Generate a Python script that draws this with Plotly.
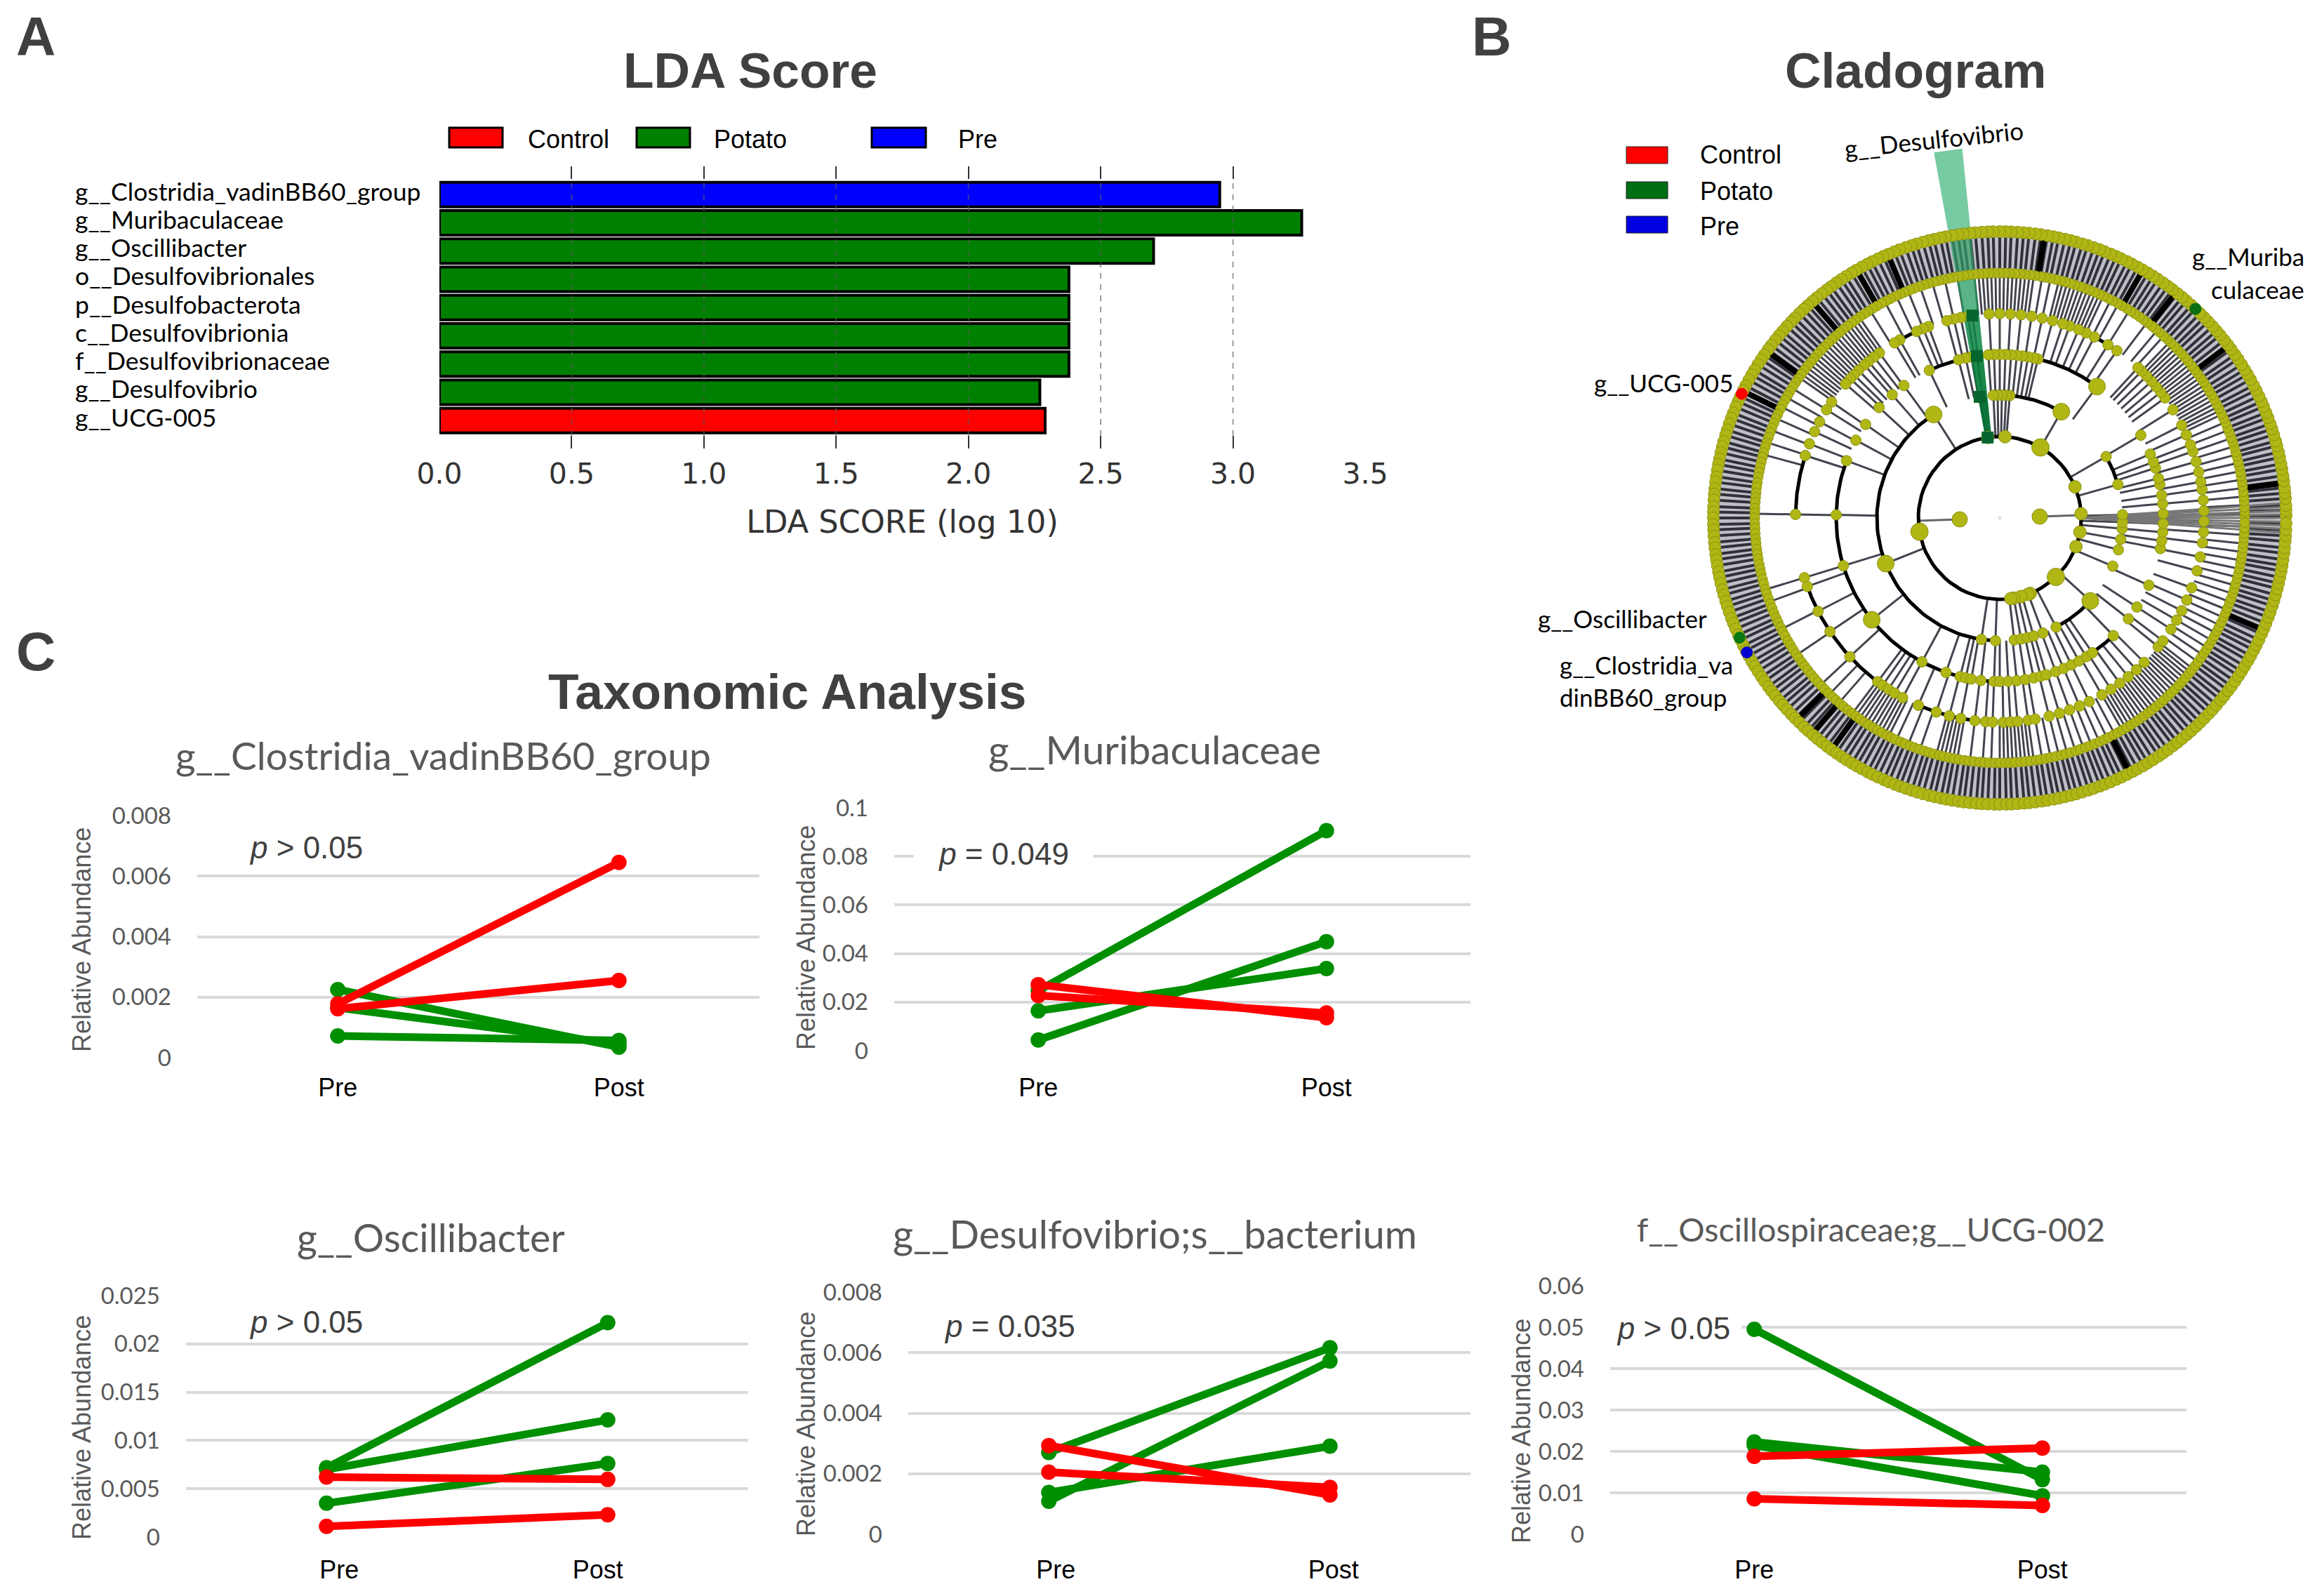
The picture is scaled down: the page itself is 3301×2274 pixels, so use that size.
import numpy as np
import plotly.graph_objects as go

W, H = 3301, 2274
def fx(p): return p / W
def fy(p): return 1 - p / H

SERIF_LIKE = "Lato"
ARIAL = "Liberation Sans"
DEJA = "DejaVu Sans"
GREY = "#595959"
DARK = "#404040"
RED = "#ff0000"
GREEN = "#008f00"

# ---------- Panel A ----------
LDA_NAMES = ["g__Clostridia_vadinBB60_group", "g__Muribaculaceae", "g__Oscillibacter",
             "o__Desulfovibrionales", "p__Desulfobacterota", "c__Desulfovibrionia",
             "f__Desulfovibrionaceae", "g__Desulfovibrio", "g__UCG-005"]
LDA_VALUES = [2.95, 3.26, 2.70, 2.38, 2.38, 2.38, 2.38, 2.27, 2.29]
LDA_GROUPS = ["Pre", "Potato", "Potato", "Potato", "Potato", "Potato", "Potato", "Potato", "Control"]
LDA_COLORS = {"Control": "#ff0000", "Potato": "#008000", "Pre": "#0000ff"}
LDA_TICKS = [0.0, 0.5, 1.0, 1.5, 2.0, 2.5, 3.0, 3.5]

# ---------- Panel C ----------
PREPOST = ["Pre", "Post"]
CLOS_GREEN = [[0.00225, 0.00035], [0.00165, 0.00045], [0.00072, 0.00057]]
CLOS_RED = [[0.00178, 0.00645], [0.00162, 0.00255]]
MURI_GREEN = [[0.0247, 0.0906], [0.0044, 0.0449], [0.0164, 0.0338]]
MURI_RED = [[0.0272, 0.0136], [0.0227, 0.0155]]
OSCI_GREEN = [[0.00717, 0.0222], [0.0070, 0.01213], [0.0035, 0.00762]]
OSCI_RED = [[0.00621, 0.00597], [0.00111, 0.00231]]
DESU_GREEN = [[0.0027, 0.00616], [0.00109, 0.00572], [0.00138, 0.00291]]
DESU_RED = [[0.00293, 0.0013], [0.00205, 0.00155]]
UCG_GREEN = [[0.0495, 0.0132], [0.0223, 0.0150], [0.0215, 0.0093]]
UCG_RED = [[0.0188, 0.0208], [0.00855, 0.00694]]

CLOS_TICKS = [0, 0.002, 0.004, 0.006, 0.008]
MURI_TICKS = [0, 0.02, 0.04, 0.06, 0.08, 0.1]
OSCI_TICKS = [0, 0.005, 0.01, 0.015, 0.02, 0.025]
DESU_TICKS = [0, 0.002, 0.004, 0.006, 0.008]
UCG_TICKS = [0, 0.01, 0.02, 0.03, 0.04, 0.05, 0.06]

# ---------- Panel B : node angles (degrees) per ring ----------
R1_NODES = [2, 182]
R2_NODES = [98.5, 86.3, 60, 22.5, 3, 350, 339.4, 313.6, 292, 290.2, 285, 280, 277.8, 189.7]
R3_NODES = [99.4, 122.6, 201.8, 261.4, 268, 276.8, 280, 283, 286, 290.5, 297.3, 317.5, 336.9, 345,
            350, 355, 358, 1.5, 15.8, 30, 59.9, 85.3, 87, 89, 91, 93]
R4_NODES = [98, 100, 102, 104.6, 115.5, 125.9, 131.1, 137.5, 145.1, 151.6, 159.5, 178.9, 197, 218.5,
            241.6, 250.8, 256, 258, 260, 263.4, 268, 270, 273, 276, 279, 282, 284.5, 286.5, 290, 293,
            296, 299, 302, 304.5, 314, 321.9, 327, 335.7, 349.2, 352, 355, 358, 1.5, 5, 8, 11.8, 14,
            17.8, 20, 23, 30.4, 53.5, 76.5, 78, 80, 82, 84, 86, 88, 90, 92, 94]
R5_NODES = [97.7, 99, 101, 103, 105, 110.4, 112, 114, 119.3, 121, 126.1, 128, 130, 131.5, 133.7, 135.5,
            137, 139, 145.4, 148, 151.9, 155, 158.7, 162.2, 179, 197, 199.6, 207.2, 213.8, 222.8, 233.3,
            235, 237, 239, 241.6, 246.5, 251.9, 255.7, 259, 263, 266, 268, 271, 273, 275, 278, 280, 284,
            287, 290, 293, 296, 300, 303, 306, 309, 312, 315, 320.9, 323, 327, 330, 333, 336.3, 340, 345,
            349, 353, 356, 359, 2, 5, 8, 10.2, 13, 16, 19, 21, 24, 27, 32, 36, 38, 40, 42, 44, 46, 47.4,
            55, 58, 62.4, 65, 67.3, 70, 72, 75, 78, 81, 84, 87, 90, 93]
R6_SPOKES = [1, 3, 5, 7, 9, 11, 13, 15, 17, 19, 21, 23, 25, 26, 27, 28, 29, 30, 31, 32, 33, 34, 35, 36, 37, 38,
             39, 40, 41, 42, 43, 44, 45, 46, 48, 50, 53, 58, 61, 63, 65, 66, 67, 68, 69, 70, 71, 72, 73, 74, 75,
             76, 78, 80, 82, 83, 84, 85, 86, 87, 88, 89, 90, 91, 92, 93, 94, 95, 96, 100, 103, 106, 109, 112,
             115, 118, 122, 125, 126, 127, 128, 129, 130, 131, 132, 133, 134, 135, 136, 137, 138, 139, 140,
             141, 142, 143, 144, 145, 148, 150.5, 153, 156, 159, 162, 165, 179, 197, 200, 207, 214, 223, 226,
             229, 233, 234, 235, 236, 237, 238, 239, 240, 241, 242, 243, 245, 248, 251, 255, 256, 257, 258,
             259, 260, 263, 266, 268, 270, 271, 272, 273, 274, 275, 276, 277, 278, 280, 282, 284, 286, 288,
             290, 292, 294, 296, 298, 300, 301, 302, 303, 304, 305, 306, 307, 308, 309, 310, 311, 312, 313,
             314, 315, 316, 317, 318, 319, 320, 321, 322, 324, 326, 328, 330, 332, 334, 336, 338, 340, 342,
             344, 346, 348, 350, 352, 354, 356, 358]
R7_LEAVES = [0.4, 1.5, 2.5, 3.9, 5.0, 6.1, 7.4, 8.5, 9.8, 10.9, 12.2, 13.3, 14.6, 15.6, 16.9, 18.1, 19.2, 20.5, 21.6,
             22.9, 24.0, 25.2, 26.5, 27.6, 28.9, 30.1, 31.2, 32.4, 33.7, 34.8, 36.1, 37.2, 38.4, 39.7, 40.8, 42.0,
             43.3, 44.4, 45.6, 46.9, 48.0, 49.3, 50.4, 51.6, 52.9, 54.0, 55.2, 56.5, 57.6, 58.8, 60.1, 61.2, 62.5,
             63.6, 64.9, 66.0, 67.2, 68.5, 69.6, 70.8, 72.1, 73.2, 74.5, 75.6, 76.8, 78.1, 79.2, 80.4, 81.7, 82.8,
             84.1, 85.2, 86.4, 87.7, 88.8, 90.0, 91.3, 92.4, 93.6, 94.9, 96.0, 97.3, 98.4, 99.6, 100.9, 102.0, 103.3,
             104.4, 105.6, 106.9, 108.0, 109.2, 110.5, 111.6, 112.9, 114.0, 115.2, 116.5, 117.6, 118.8, 120.1, 121.2,
             122.5, 123.6, 124.8, 126.1, 127.2, 128.4, 129.7, 130.8, 132.1, 133.2, 134.4, 135.7, 136.8, 138.0, 139.3,
             140.4, 141.6, 142.9, 144.0, 145.3, 146.4, 147.6, 148.9, 150.0, 151.2, 152.5, 153.6, 154.9, 156.0, 157.2,
             158.5, 159.6, 160.8, 162.1, 163.2, 164.5, 165.6, 166.8, 168.1, 169.2, 170.4, 171.7, 172.8, 174.1, 175.2,
             176.4, 177.7, 178.8, 180.0, 181.3, 182.4, 183.6, 184.9, 186.0, 187.3, 188.4, 189.6, 190.9, 192.0, 193.2,
             194.5, 195.6, 196.9, 198.0, 199.2, 200.5, 201.6, 202.8, 204.1, 205.2, 206.5, 207.6, 208.8, 210.1, 211.2,
             212.4, 213.7, 214.8, 216.1, 217.2, 218.4, 219.7, 220.8, 222.0, 223.3, 224.4, 225.6, 226.9, 228.0, 229.3,
             230.4, 231.6, 232.9, 234.0, 235.2, 236.5, 237.6, 238.9, 240.0, 241.2, 242.5, 243.6, 244.8, 246.1, 247.2,
             248.5, 249.6, 250.8, 252.1, 253.2, 254.4, 255.7, 256.8, 258.1, 259.2, 260.4, 261.7, 262.8, 264.0, 265.3,
             266.4, 267.6, 268.9, 270.0, 271.3, 272.4, 273.6, 274.9, 276.0, 277.2, 278.5, 279.6, 280.9, 282.0, 283.2,
             284.5, 285.6, 286.8, 288.1, 289.2, 290.5, 291.6, 292.8, 294.1, 295.2, 296.4, 297.7, 298.8, 300.1, 301.2,
             302.4, 303.7, 304.8, 306.0, 307.3, 308.4, 309.6, 310.9, 312.0, 313.3, 314.4, 315.6, 316.9, 318.0, 319.2,
             320.5, 321.6, 322.9, 324.0, 325.2, 326.5, 327.6, 328.8, 330.1, 331.2, 332.5, 333.6, 334.8, 336.1, 337.2,
             338.4, 339.7, 340.8, 342.1, 343.2, 344.4, 345.7, 346.8, 348.0, 349.3, 350.4, 351.6, 352.9, 354.0, 355.3,
             356.4, 357.6, 358.9]
BLACK_BANDS = [153.7, 144.4, 130.9, 120, 81, 60, 52, 37, 224.8, 229, 234, 297, 337, 7, 113]
FAN_SPOKES = [357, 357.8, 358.5, 359.2, 0, 0.7, 1.4, 2.2, 3]
BIG_NODES_R2 = [60, 313.6, 189.7]
BIG_NODES_R3 = [59.9, 122.6, 201.8, 317.5]
BIG_NODES_R4 = [53.5, 218.5]
# (ring radius key, start angle, end angle)
ARCS = [(2, 0, 360), (3, 122.6, 268), (3, 60, 85.3), (3, 15.8, 30), (3, 297.3, 317.5),
        (4, 159.5, 270), (4, 104.6, 115.5), (4, 53.5, 76.5), (4, 304.5, 314),
        (5, 162.2, 179), (5, 197, 233.3), (5, 110.4, 119.3), (5, 55, 62.4), (5, 309, 315), (5, 246.5, 268)]
RING_R = {1: 57, 2: 116, 3: 175, 4: 233, 5: 291, 6: 349, 7: 408}
WEDGE = [(116, 175, "rgba(5,110,50,0.96)"), (175, 233, "rgba(8,125,58,0.92)"), (233, 291, "rgba(14,135,70,0.85)"),
         (291, 349, "rgba(35,155,95,0.75)"), (349, 410, "rgba(50,160,105,0.7)"), (410, 529, "rgba(85,190,140,0.8)")]
WEDGE_ANGLES = (95.8, 100.2)
WEDGE_RING_NODES = [(2, 98.5), (3, 99.4), (4, 98), (5, 97.7)]
MARKED = [(154.3, "#ff0000"), (46.9, "#0a6e14"), (204.7, "#0a7a14"), (208, "#0000d0")]

OLIVE = "#b0b614"
OLIVE_EDGE = "#8c9210"

fig = go.Figure()

# ---- Panel A bars
fig.add_trace(go.Bar(
    x=LDA_VALUES, y=LDA_NAMES, orientation="h", width=0.87,
    marker=dict(color=[LDA_COLORS[g] for g in LDA_GROUPS], line=dict(color="#000000", width=4)),
    xaxis="x", yaxis="y", showlegend=False))

# ---- Panel B helpers
def pol(angles, r):
    a = np.radians(np.asarray(angles, float))
    return r * np.cos(a), r * np.sin(a)

def spokes(angles, r0, r1, fan_from=None):
    xs, ys = [], []
    for a in angles:
        x0, y0 = pol([a if fan_from is None else fan_from], r0)
        x1, y1 = pol([a], r1)
        xs += [x0[0], x1[0], None]
        ys += [y0[0], y1[0], None]
    return xs, ys

def line_trace(xs, ys, color, width):
    fig.add_trace(go.Scatter(x=xs, y=ys, mode="lines", line=dict(color=color, width=width),
                             xaxis="x2", yaxis="y2", showlegend=False, hoverinfo="skip"))

def node_trace(angles, r, size, color=OLIVE, edge=OLIVE_EDGE, symbol="circle"):
    x, y = pol(angles, r)
    fig.add_trace(go.Scatter(x=x, y=y, mode="markers",
                             marker=dict(size=size, color=color, symbol=symbol, line=dict(color=edge, width=1)),
                             xaxis="x2", yaxis="y2", showlegend=False, hoverinfo="skip"))

R = RING_R
band_x, band_y = pol(np.linspace(0, 360, 240), (R[6] + R[7]) / 2)
line_trace(band_x.tolist(), band_y.tolist(), "rgba(110,110,125,0.45)", 50)
line_trace(*spokes(R7_LEAVES, R[6], R[7]), "#30303a", 4)
line_trace(*spokes(BLACK_BANDS, R[6], R[7]), "#000000", 8)
line_trace(*spokes(R6_SPOKES, R[5], R[6]), "#44444f", 3)
line_trace(*spokes(R5_NODES, R[4], R[5]), "#44444f", 3)
line_trace(*spokes(R4_NODES, R[3], R[4]), "#44444f", 3)
line_trace(*spokes(R3_NODES, R[2], R[3]), "#44444f", 3)
line_trace(*spokes(R1_NODES, R[1], R[2]), "#666666", 3)
line_trace(*spokes(FAN_SPOKES, R[2], R[7], fan_from=0), "#777777", 3)
for ring, a0, a1 in ARCS:
    x, y = pol(np.linspace(a0, a1, 80), R[ring])
    line_trace(x.tolist(), y.tolist(), "#000000", 5)

for r0, r1, col in WEDGE:
    xa, ya = pol([WEDGE_ANGLES[0], WEDGE_ANGLES[1]], r0)
    xb, yb = pol([WEDGE_ANGLES[1], WEDGE_ANGLES[0]], r1)
    fig.add_trace(go.Scatter(x=list(xa) + list(xb), y=list(ya) + list(yb), mode="lines", fill="toself",
                             fillcolor=col, line=dict(width=0), xaxis="x2", yaxis="y2",
                             showlegend=False, hoverinfo="skip"))

node_trace(R7_LEAVES, R[7], 17)
node_trace(R7_LEAVES, R[6], 14)
node_trace(R5_NODES, R[5], 15)
node_trace(R4_NODES, R[4], 15)
node_trace(R3_NODES, R[3], 15)
node_trace(R2_NODES, R[2], 18)
node_trace(R1_NODES, R[1], 22)
node_trace(BIG_NODES_R2, R[2], 25)
node_trace(BIG_NODES_R3, R[3], 24)
node_trace(BIG_NODES_R4, R[4], 24)
node_trace([0], 0, 4, color="#dddddd", edge="#dddddd")
for ring, a in WEDGE_RING_NODES:
    node_trace([a], R[ring], 16, color="#06662e", edge="#06662e", symbol="square")
for a, c in MARKED:
    node_trace([a], R[7], 16, color=c, edge=c)

# ---- Panel C
PANELS = [
    dict(name="g__Clostridia_vadinBB60_group", green=CLOS_GREEN, red=CLOS_RED, ticks=CLOS_TICKS,
         box=(281, 1082, 1162, 1507), lab=(0.0, 0.0), tx=631, ty=1076, ts=55, st=18,
         ytx=116, yty=1339, p="<i>p</i> > 0.05", px=436, py=1207, bg=None),
    dict(name="g__Muribaculaceae", green=MURI_GREEN, red=MURI_RED, ticks=MURI_TICKS,
         box=(1274, 2095, 1151, 1497), lab=(0.0, 0.0), tx=1645, ty=1067, ts=56.7, st=28,
         ytx=1148, yty=1336, p="<i>p</i> = 0.049", px=1429, py=1216, bg=253),
    dict(name="g__Oscillibacter", green=OSCI_GREEN, red=OSCI_RED, ticks=OSCI_TICKS,
         box=(265, 1066, 1846, 2190), lab=(0.045, -0.035), tx=614, ty=1762, ts=55.5, st=22,
         ytx=116, yty=2034, p="<i>p</i> > 0.05", px=436, py=1883, bg=None),
    dict(name="g__Desulfovibrio;s__bacterium", green=DESU_GREEN, red=DESU_RED, ticks=DESU_TICKS,
         box=(1294, 2095, 1841, 2186), lab=(0.025, 0.0125), tx=1645, ty=1757, ts=56, st=26,
         ytx=1148, yty=2029, p="<i>p</i> = 0.035", px=1438, py=1889, bg=None),
    dict(name="f__Oscillospiraceae;g__UCG-002", green=UCG_GREEN, red=UCG_RED, ticks=UCG_TICKS,
         box=(2294, 3115, 1832, 2186), lab=(0.0, 0.0), tx=2665, ty=1751, ts=46.7, st=26,
         ytx=2167, yty=2039, p="<i>p</i> > 0.05", px=2384, py=1892, bg=192),
]

def note(text, x, y, size, color="#000000", family=SERIF_LIKE, angle=0, xanchor="center", **kw):
    fig.add_annotation(text=text, x=fx(x), y=fy(y), xref="paper", yref="paper", showarrow=False,
                       font=dict(size=size, color=color, family=family), textangle=angle,
                       xanchor=xanchor, yanchor="middle", **kw)

axes = dict(
    xaxis=dict(domain=[fx(626), fx(1945)], range=[0, 3.5], tickvals=LDA_TICKS, tickformat=".1f", showgrid=False,
               ticks="inside", ticklen=18, tickwidth=2, tickcolor="#333333", mirror="ticks", zeroline=False,
               showline=False, anchor="y", ticklabelstandoff=8,
               tickfont=dict(family=DEJA, size=41, color="#333333"),
               title=dict(text="LDA SCORE (log 10)", font=dict(family=DEJA, size=44.6, color="#333333"), standoff=29)),
    yaxis=dict(domain=[fy(639), fy(237)], range=[8.99, -1], type="category", categoryorder="array",
               categoryarray=LDA_NAMES, showticklabels=False, showgrid=False, zeroline=False, showline=False,
               ticks="", anchor="x"),
    xaxis2=dict(domain=[fx(2100), 1], range=[-749, 452], visible=False, anchor="y2"),
    yaxis2=dict(domain=[fy(1200), fy(150)], range=[-462, 588], visible=False, anchor="x2"),
)

for i, p in enumerate(PANELS):
    n = i + 3
    xa, ya = f"x{n}", f"y{n}"
    for series, col in ((p["green"], GREEN), (p["red"], RED)):
        for vals in series:
            fig.add_trace(go.Scatter(x=[0, 1], y=vals, mode="lines+markers",
                                     line=dict(color=col, width=11), marker=dict(color=col, size=22),
                                     xaxis=xa, yaxis=ya, showlegend=False))
    x0, x1, ytop, ybot = p["box"]
    axes[f"xaxis{n}"] = dict(domain=[fx(x0), fx(x1)], range=[-0.5, 1.5], tickvals=[0 + p["lab"][0], 1 + p["lab"][1]],
                             ticktext=PREPOST, ticks="", showgrid=False, zeroline=False, showline=False,
                             anchor=ya, ticklabelstandoff=p["st"], tickfont=dict(family=ARIAL, size=36, color="#000000"))
    axes[f"yaxis{n}"] = dict(domain=[fy(ybot), fy(ytop)], range=[0, p["ticks"][-1]], tickvals=p["ticks"],
                             ticktext=[str(t) for t in p["ticks"]], ticks="", showgrid=True, gridcolor="#d9d9d9",
                             gridwidth=3.5, zeroline=False, showline=False, anchor=xa, ticklabelstandoff=36,
                             tickfont=dict(family=SERIF_LIKE, size=33, color=GREY))
    note(p["name"], p["tx"], p["ty"], p["ts"], color=GREY)
    note("Relative Abundance", p["ytx"], p["yty"], 36, color=GREY, family=ARIAL, angle=-90)
    kw = dict(bgcolor="#ffffff", width=p["bg"], align="center") if p["bg"] else {}
    note(p["p"], p["px"], p["py"], 44, color=DARK, family=ARIAL, **kw)

# ---- headings and panel letters
for t, x, y in (("LDA Score", 1069, 100), ("Cladogram", 2729, 100), ("Taxonomic Analysis", 1122, 985)):
    note(f"<b>{t}</b>", x, y, 71.3, color=DARK, family=ARIAL)
for t, x, y in (("A", 51, 52), ("B", 2125, 52), ("C", 51, 928)):
    note(f"<b>{t}</b>", x, y, 78, color=DARK, family=ARIAL)

# ---- Panel A labels and legend
for name in LDA_NAMES:
    fig.add_annotation(text=name, x=fx(105), y=name, xref="paper", yref="y", showarrow=False, yshift=5,
                       font=dict(size=35.5, color="#000000", family=SERIF_LIKE), xanchor="left", yanchor="middle")

shapes = []
for t in LDA_TICKS[1:-1]:
    shapes.append(dict(type="line", xref="x", yref="y domain", x0=t, x1=t, y0=0.045, y1=0.955, layer="above",
                       line=dict(color="rgba(90,90,90,0.6)", width=2, dash="8px,8px")))
for g, x0, x1, tx in (("Control", 640, 716, 750), ("Potato", 907, 983, 1015), ("Pre", 1242, 1319, 1363)):
    shapes.append(dict(type="rect", xref="paper", yref="paper", x0=fx(x0), x1=fx(x1), y0=fy(210), y1=fy(182),
                       fillcolor=LDA_COLORS[g], line=dict(color="#000000", width=3)))
    note(g, tx, 199, 36, family=ARIAL, xanchor="left")
for g, c, y0, y1, ty in (("Control", "#ff0000", 209, 233, 220), ("Potato", "#006e12", 259, 283, 273),
                         ("Pre", "#0000e0", 308, 332, 323)):
    shapes.append(dict(type="rect", xref="paper", yref="paper", x0=fx(2317), x1=fx(2376), y0=fy(y1), y1=fy(y0),
                       fillcolor=c, line=dict(color="#222222", width=1)))
    note(g, 2420, ty, 36, family=ARIAL, xanchor="left")

# ---- Panel B taxon labels
note("g__Desulfovibrio", 2755, 198, 35, angle=-6)
note("g__UCG-005", 2370, 545, 35)
note("g__Muriba", 3285, 365, 35, xanchor="right")
note("culaceae", 3285, 412, 35, xanchor="right")
note("g__Oscillibacter", 2189, 881, 35, xanchor="left")
note("g__Clostridia_va", 2220, 947, 35, xanchor="left")
note("dinBB60_group", 2220, 993, 35, xanchor="left")

fig.update_layout(width=W, height=H, margin=dict(l=0, r=0, t=0, b=0, autoexpand=False), paper_bgcolor="#ffffff",
                  plot_bgcolor="rgba(0,0,0,0)", showlegend=False, shapes=shapes, bargap=0.1, **axes)
fig.write_html("out.html", config=dict(displayModeBar=False),
               post_script="document.body.style.margin='0';document.body.style.overflow='hidden';")
